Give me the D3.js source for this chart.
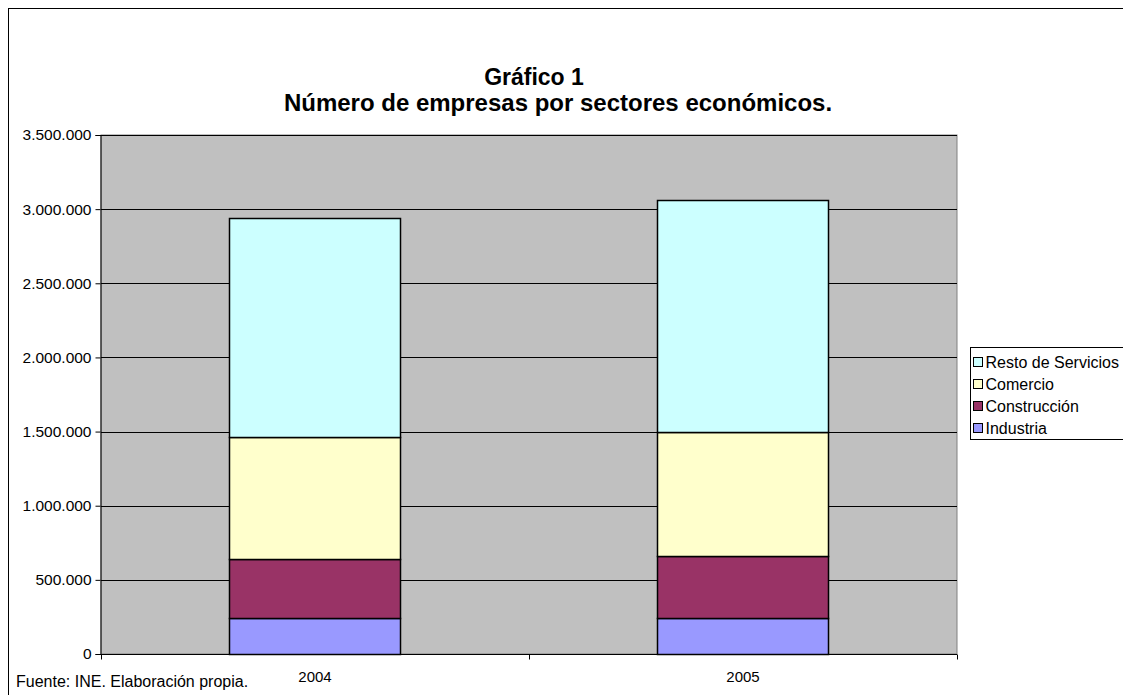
<!DOCTYPE html>
<html>
<head>
<meta charset="utf-8">
<script src="https://cdn.jsdelivr.net/npm/d3@7"></script>
<style>
  body { margin: 0; background: #fff; }
  svg { font-family: "Liberation Sans", Arial, sans-serif; }
</style>
</head>
<body>
<div id="chart"></div>
<script>
// data
const years = ["2004", "2005"];
const sectors = ["Industria", "Construcción", "Comercio", "Resto de Servicios"];
const industria    = [243000, 245000];
const construccion = [397000, 416000];
const comercio     = [825000, 838000];
const resto        = [1477000, 1561000];
const yTicks = [0, 500000, 1000000, 1500000, 2000000, 2500000, 3000000, 3500000];

const colors = ["#9999ff", "#993366", "#ffffcc", "#ccffff"];

const W = 1123, H = 695;
const plot = {left: 101, top: 135, right: 957, bottom: 654};

const svg = d3.select("#chart").append("svg")
    .attr("width", W).attr("height", H);

// outer chart border
svg.append("rect")
    .attr("x", 8.5).attr("y", 8.5)
    .attr("width", W + 20).attr("height", H + 20)
    .attr("fill", "#fff").attr("stroke", "#000").attr("stroke-width", 1);

const rows = years.map((y, i) => ({
  year: y,
  "Industria": industria[i],
  "Construcción": construccion[i],
  "Comercio": comercio[i],
  "Resto de Servicios": resto[i]
}));
const stacked = d3.stack().keys(sectors)(rows);

const x = d3.scaleBand().domain(years)
    .range([plot.left, plot.right])
    .paddingInner(0.6).paddingOuter(0.3);
const xStep = d3.scaleBand().domain(years).range([plot.left, plot.right]);
const y = d3.scaleLinear().domain([0, 3500000]).range([plot.bottom, plot.top]);

// plot background
svg.append("rect")
    .attr("x", plot.left).attr("y", plot.top)
    .attr("width", plot.right - plot.left).attr("height", plot.bottom - plot.top)
    .attr("fill", "#c0c0c0").attr("stroke", "#808080");

// gridlines
svg.append("g").selectAll("line").data(yTicks.slice(1))
  .join("line")
    .attr("x1", plot.left).attr("x2", plot.right)
    .attr("y1", d => Math.round(y(d)) + 0.5).attr("y2", d => Math.round(y(d)) + 0.5)
    .attr("stroke", "#000").attr("stroke-width", 1);

// bars
svg.append("g").selectAll("g").data(stacked)
  .join("g")
    .attr("fill", (d, i) => colors[i])
  .selectAll("rect").data(d => d)
  .join("rect")
    .attr("x", d => Math.round(x(d.data.year)) + 0.5)
    .attr("y", d => Math.round(y(d[1])) + 0.5)
    .attr("width", Math.round(x.bandwidth()))
    .attr("height", d => Math.round(y(d[0])) - Math.round(y(d[1])))
    .attr("stroke", "#000").attr("stroke-width", 1.5);

// y axis
const fmt = d => d3.format(",")(d).replace(/,/g, ".");
const yAxis = svg.append("g")
    .attr("transform", `translate(${plot.left - 0.5},0)`)
    .call(d3.axisLeft(y).tickValues(yTicks).tickFormat(fmt).tickSize(5).tickPadding(4));
yAxis.select(".domain").attr("stroke", "#000");
yAxis.selectAll(".tick line").attr("stroke", "#000");
yAxis.selectAll("text").attr("font-size", 15.5).attr("fill", "#000")
    .attr("font-family", "Liberation Sans, Arial, sans-serif");

// x axis: ticks at band boundaries, labels at band centers
const xg = svg.append("g").attr("transform", `translate(0,${plot.bottom + 0.5})`);
xg.append("line").attr("x1", plot.left).attr("x2", plot.right)
    .attr("stroke", "#000");
const bounds = [xStep.range()[0]].concat(years.map(d => xStep(d) + xStep.step()));
xg.selectAll(".xt").data(bounds).join("line")
    .attr("x1", d => Math.round(d) + 0.5).attr("x2", d => Math.round(d) + 0.5)
    .attr("y1", 0).attr("y2", 5).attr("stroke", "#000");
xg.selectAll("text").data(years).join("text")
    .attr("x", d => xStep(d) + xStep.bandwidth() / 2)
    .attr("y", 27)
    .attr("text-anchor", "middle")
    .attr("font-size", 15)
    .text(d => d);

// title
svg.append("text").attr("x", 534).attr("y", 85)
    .attr("text-anchor", "middle").attr("font-size", 23).attr("font-weight", "bold")
    .text("Gráfico 1");
svg.append("text").attr("x", 558).attr("y", 111)
    .attr("text-anchor", "middle").attr("font-size", 24).attr("font-weight", "bold")
    .text("Número de empresas por sectores económicos.");

// source note
svg.append("text").attr("x", 16).attr("y", 687)
    .attr("font-size", 16).text("Fuente: INE. Elaboración propia.");

// legend
const leg = svg.append("g").attr("transform", "translate(970.5,347.5)");
leg.append("rect").attr("width", 170).attr("height", 92)
    .attr("fill", "#fff").attr("stroke", "#000");
const items = sectors.slice().reverse();
const li = leg.selectAll(".li").data(items).join("g")
    .attr("transform", (d, i) => `translate(3,${10 + i * 22})`);
li.append("rect").attr("width", 9).attr("height", 9)
    .attr("fill", d => colors[sectors.indexOf(d)]).attr("stroke", "#000");
li.append("text").attr("x", 12).attr("y", 10)
    .attr("font-size", 16).text(d => d);
</script>
</body>
</html>
